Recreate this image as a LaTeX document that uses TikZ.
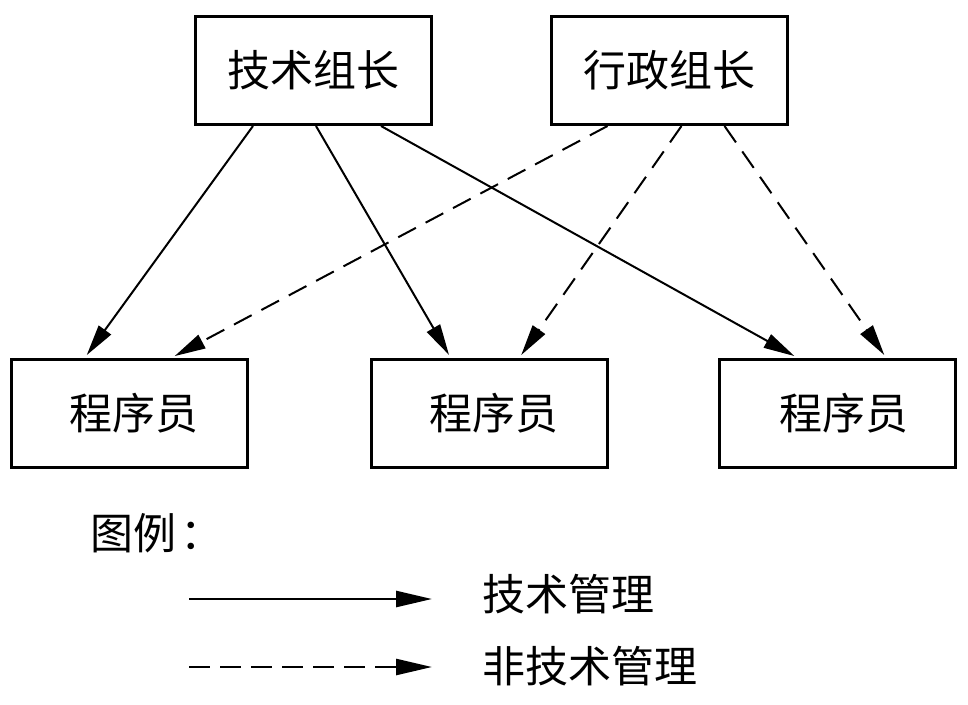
\documentclass[tikz,border=0pt]{standalone}
\usepackage{fontspec}
\newfontfamily\cjk{Noto Sans CJK SC}
\usetikzlibrary{arrows.meta}
\tikzset{
  box/.style={draw=black, line width=3pt, minimum width=236pt, minimum height=108pt, inner sep=0pt, font=\cjk\fontsize{43}{43}\selectfont},
  txt/.style={inner sep=0pt, font=\cjk\fontsize{43}{43}\selectfont},
  conn/.style={line width=2pt, -{Triangle[length=31pt,width=15pt]}, shorten >=3pt},
  tech/.style={conn},
  nontech/.style={conn, dash pattern=on 20pt off 11pt},
  legline/.style={line width=2.6pt, -{Triangle[length=36pt,width=16pt]}}
}
\begin{document}
\begin{tikzpicture}[x=1pt,y=-1pt]
\useasboundingbox (0,0) rectangle (968,704);
\node[box] (tl) at (313.5,70.5) {技术组长};
\node[box] (al) at (669,70.5) {行政组长};
\node[box] (p1) at (129.5,413) {\hspace{8pt}程序员};
\node[box] (p2) at (489,413) {\hspace{10pt}程序员};
\node[box] (p3) at (837.5,413) {\hspace{12pt}程序员};
% technical management
\draw[tech] ([xshift=59pt]tl.south west) -- ([xshift=75pt]p1.north west);
\draw[tech] ([xshift=122pt]tl.south west) -- ([xshift=81pt]p2.north west);
\draw[tech] ([xshift=187pt]tl.south west) -- ([xshift=79pt]p3.north west);
% non-technical management
\draw[nontech] ([xshift=58pt]al.south west) -- ([xshift=162pt]p1.north west);
\draw[nontech] ([xshift=132pt]al.south west) -- ([xshift=150pt]p2.north west);
\draw[nontech] ([xshift=175pt]al.south west) -- ([xshift=168pt]p3.north west);
% legend
\node[txt, anchor=west] (lg) at (90,533) {图例\hspace{4pt}：};
\coordinate (l1a) at (189,599);
\coordinate (l1b) at (432,599);
\coordinate (l2a) at (189,667);
\coordinate (l2b) at (432,667);
\draw[legline] (l1a) -- (l1b);
\draw[legline, dash pattern=on 21pt off 10pt] (l2a) -- (l2b);
\node[txt, anchor=west] (t1) at (482,594) {技术管理};
\node[txt, anchor=west] (t2) at (482,666) {非技术管理};
\end{tikzpicture}
\end{document}
